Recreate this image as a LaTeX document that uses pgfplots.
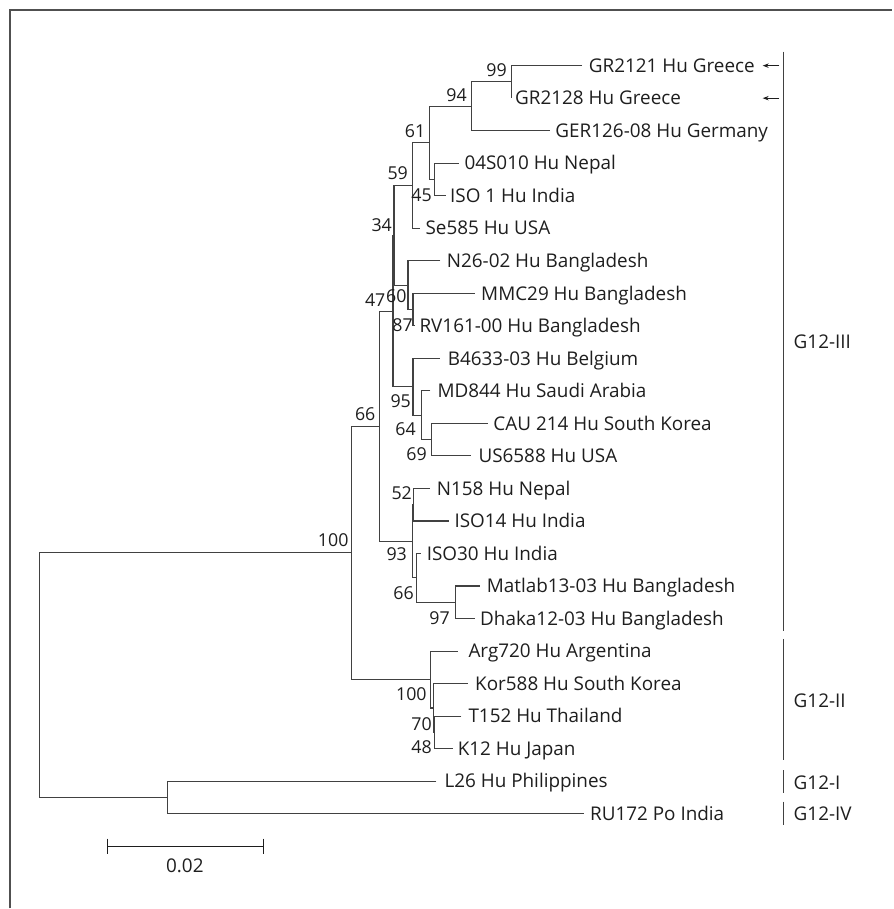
\documentclass[border=0pt]{standalone}
\usepackage{pgfplots}
\pgfplotsset{compat=1.18}
\usepackage{fontspec}
\setmainfont{Open Sans}
\usetikzlibrary{arrows.meta}
\definecolor{treegray}{RGB}{65,65,65}
\definecolor{textgray}{RGB}{30,30,30}
\definecolor{framegray}{RGB}{80,80,80}
\tikzset{
  tree/.style={line width=0.55pt, color=treegray, mark=none},
  leaf/.style={anchor=west, inner sep=0pt, text height=6.7pt, text depth=0pt,
    font=\fontsize{9.45}{11}\selectfont, text=textgray},
  boot/.style={anchor=center, inner sep=0pt, text height=6.3pt, text depth=0pt,
    font=\fontsize{8.9}{10}\selectfont, text=textgray},
}
\begin{document}
\begin{tikzpicture}
\begin{axis}[
  hide axis, scale only axis,
  width=446.5pt, height=454.5pt,
  xmin=0, xmax=893, ymin=0, ymax=909,
  y dir=reverse, clip=false,
]
\path (axis cs:0,0) rectangle (axis cs:893,909);
% frame (top and left edges)
\addplot[line width=0.75pt, color=framegray, mark=none] coordinates {(10,909) (10,10) (893,10)};
% internal nodes: child A -> node -> child B
\addplot[tree] coordinates {(582.7,65.7) (511.7,65.7) (511.7,98.25)};            % 99
\addplot[tree] coordinates {(511.7,81.98) (472.3,81.98) (472.3,130.8) (550.7,130.8)}; % 94
\addplot[tree] coordinates {(459,163.35) (435,163.35) (435,195.9) (446,195.9)};  % 45
\addplot[tree] coordinates {(472.3,106.39) (430.3,106.39) (430.3,179.63) (435,179.63)}; % 61
\addplot[tree] coordinates {(430.3,143.01) (412.7,143.01) (412.7,228.45) (420,228.45)}; % 59
\addplot[tree] coordinates {(475,293.55) (413.3,293.55) (413.3,326.1) (415,326.1)}; % 87
\addplot[tree] coordinates {(440.7,261) (408.3,261) (408.3,309.83) (413.3,309.83)}; % 60
\addplot[tree] coordinates {(412.7,185.73) (394.3,185.73) (394.3,285.41) (408.3,285.41)}; % 34
\addplot[tree] coordinates {(488.3,423.75) (431.7,423.75) (431.7,456.3) (471,456.3)}; % 69
\addplot[tree] coordinates {(430.7,391.2) (421.7,391.2) (421.7,440.03) (431.7,440.03)}; % 64
\addplot[tree] coordinates {(440,358.65) (413.3,358.65) (413.3,415.6) (421.7,415.6)}; % 95
\addplot[tree] coordinates {(394.3,235.57) (393.3,235.57) (393.3,387.13) (413.3,387.13)}; % 47
\addplot[tree] coordinates {(430,488.85) (414,488.85) (414,521.4) (449.3,521.4)}; % 52
\addplot[tree] coordinates {(480,586.5) (455.7,586.5) (455.7,619.05) (475,619.05)}; % 97
\addplot[tree] coordinates {(421,553.95) (416.7,553.95) (416.7,602.78) (455.7,602.78)}; % 66
\addplot[tree] coordinates {(414,505.13) (412.7,505.13) (412.7,578.36) (416.7,578.36)}; % 93
\addplot[tree] coordinates {(393.3,311.35) (380,311.35) (380,541.75) (412.7,541.75)}; % 66
\addplot[tree] coordinates {(461.7,716.7) (435,716.7) (435,749.25) (453.3,749.25)}; % 48
\addplot[tree] coordinates {(468.3,684.15) (434.2,684.15) (434.2,732.98) (435,732.98)}; % 70
\addplot[tree] coordinates {(458.3,651.6) (430.7,651.6) (430.7,708.56) (434.2,708.56)}; % 100
\addplot[tree] coordinates {(380,426.55) (351.7,426.55) (351.7,680.08) (430.7,680.08)}; % 100
\addplot[tree] coordinates {(436.7,781.8) (167.3,781.8) (167.3,814.35) (584,814.35)}; % L26/RU172
\addplot[tree] coordinates {(351.7,553.31) (39.3,553.31) (39.3,798.08) (167.3,798.08)}; % root
% leaf labels
\node[leaf] at (axis cs:589,65.7) {GR2121 Hu Greece};
\node[leaf] at (axis cs:515.2,98.25) {GR2128 Hu Greece};
\node[leaf] at (axis cs:555.5,130.8) {GER126-08 Hu Germany};
\node[leaf] at (axis cs:464.5,163.35) {04S010 Hu Nepal};
\node[leaf] at (axis cs:450.2,195.9) {ISO 1 Hu India};
\node[leaf] at (axis cs:425.5,228.45) {Se585 Hu USA};
\node[leaf] at (axis cs:446.8,261) {N26-02 Hu Bangladesh};
\node[leaf] at (axis cs:481.2,293.55) {MMC29 Hu Bangladesh};
\node[leaf] at (axis cs:419.5,326.1) {RV161-00 Hu Bangladesh};
\node[leaf] at (axis cs:447.8,358.65) {B4633-03 Hu Belgium};
\node[leaf] at (axis cs:437.5,391.2) {MD844 Hu Saudi Arabia};
\node[leaf] at (axis cs:493.5,423.75) {CAU 214 Hu South Korea};
\node[leaf] at (axis cs:478.5,456.3) {US6588 Hu USA};
\node[leaf] at (axis cs:436.8,488.85) {N158 Hu Nepal};
\node[leaf] at (axis cs:454.5,521.4) {ISO14 Hu India};
\node[leaf] at (axis cs:426.8,553.95) {ISO30 Hu India};
\node[leaf] at (axis cs:486.8,586.5) {Matlab13-03 Hu Bangladesh};
\node[leaf] at (axis cs:480.2,619.05) {Dhaka12-03 Hu Bangladesh};
\node[leaf] at (axis cs:468.5,651.6) {Arg720 Hu Argentina};
\node[leaf] at (axis cs:475.2,684.15) {Kor588 Hu South Korea};
\node[leaf] at (axis cs:468.5,716.7) {T152 Hu Thailand};
\node[leaf] at (axis cs:457.8,749.25) {K12 Hu Japan};
\node[leaf] at (axis cs:444.5,781.8) {L26 Hu Philippines};
\node[leaf] at (axis cs:590.2,814.35) {RU172 Po India};
% bootstrap values
\node[boot] at (axis cs:497,70) {99};
\node[boot] at (axis cs:457,95) {94};
\node[boot] at (axis cs:415.5,131.7) {61};
\node[boot] at (axis cs:398,173.3) {59};
\node[boot] at (axis cs:422,195) {45};
\node[boot] at (axis cs:382,225) {34};
\node[boot] at (axis cs:375.5,300) {47};
\node[boot] at (axis cs:396.7,296.7) {60};
\node[boot] at (axis cs:403,325) {87};
\node[boot] at (axis cs:401,401.7) {95};
\node[boot] at (axis cs:406,430) {64};
\node[boot] at (axis cs:417,455) {69};
\node[boot] at (axis cs:402,493.3) {52};
\node[boot] at (axis cs:397,555) {93};
\node[boot] at (axis cs:404,593.3) {66};
\node[boot] at (axis cs:440,618.3) {97};
\node[boot] at (axis cs:365.5,414.3) {66};
\node[boot] at (axis cs:333.5,541) {100};
\node[boot] at (axis cs:411.7,695) {100};
\node[boot] at (axis cs:422,724.3) {70};
\node[boot] at (axis cs:422,748.3) {48};
% arrows
\addplot[line width=0.5pt, color=textgray, mark=none, -{Stealth[length=3pt,width=2.2pt]}] coordinates {(780,65.7) (763.3,65.7)};
\addplot[line width=0.5pt, color=textgray, mark=none, -{Stealth[length=3pt,width=2.2pt]}] coordinates {(780,98.25) (763.3,98.25)};
% group brackets
\addplot[tree] coordinates {(784,51.7) (784,631.7)};
\addplot[tree] coordinates {(784,639.3) (784,760.7)};
\addplot[tree] coordinates {(784,770.7) (784,793.3)};
\addplot[tree] coordinates {(784,802.3) (784,826)};
\node[leaf] at (axis cs:794,341.7) {G12-III};
\node[leaf] at (axis cs:794,701) {G12-II};
\node[leaf] at (axis cs:794,783) {G12-I};
\node[leaf] at (axis cs:794,814.5) {G12-IV};
% scale bar
\addplot[tree, color=textgray] coordinates {(107.7,847.3) (263.3,847.3)};
\addplot[tree, color=textgray] coordinates {(107.7,839.3) (107.7,855)};
\addplot[tree, color=textgray] coordinates {(263.3,839.3) (263.3,855)};
\node[boot, font=\fontsize{9.45}{11}\selectfont, text height=6.7pt] at (axis cs:185,866.7) {0.02};
\end{axis}
\end{tikzpicture}
\end{document}
